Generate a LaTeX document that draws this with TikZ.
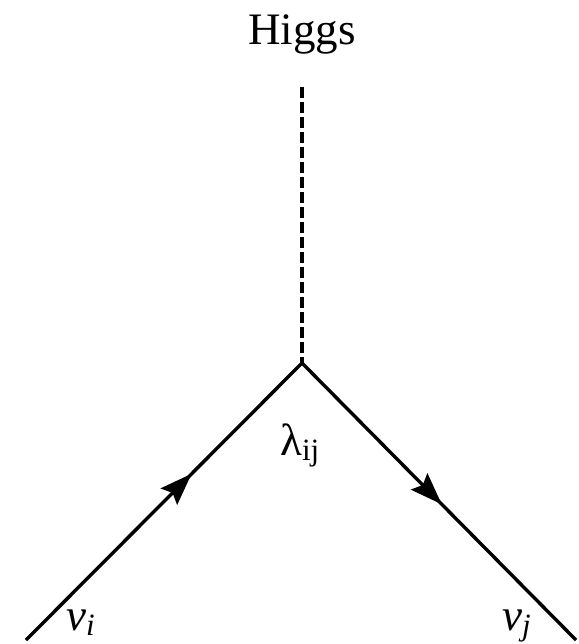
\documentclass[tikz,border=0pt]{standalone}
\usepackage{fontspec}
\setmainfont{Liberation Serif}
\usetikzlibrary{arrows.meta,decorations.markings}
\newcommand{\subtxt}[1]{\raisebox{-5pt}{\fontsize{31}{36}\selectfont #1}}
\tikzset{
  fermion/.style={line width=3.4pt},
  scalar/.style={line width=3.6pt, dash pattern=on 11pt off 4pt},
  arrowat/.style={postaction={decorate,decoration={markings,
     mark=at position #1 with {\arrow{Stealth[length=32pt,width=23pt,inset=5pt]}}}}},
  lbl/.style={anchor=base west, inner sep=0pt, font=\fontsize{45}{54}\selectfont}
}
\begin{document}
\begin{tikzpicture}[x=1pt,y=-1pt]
\useasboundingbox (0,0) rectangle (578,644);
\coordinate (v) at (302,363);
\coordinate (top) at (302,87);
\coordinate (a) at (26,640);
\coordinate (b) at (576,640);
\node[anchor=base, inner sep=0pt, font=\fontsize{45}{54}\selectfont] (higgs) at (302,45) {Higgs};
\draw[scalar] (top) -- (v);
\draw[fermion, arrowat=0.6] (a) -- (v);
\draw[fermion, arrowat=0.51] (v) -- (b);
\node[lbl] (lam) at (280,455) {λ\subtxt{ij}};
\node[lbl] (nui) at (66,630) {\itshape ν\subtxt{i}};
\node[lbl] (nuj) at (502,630) {\itshape ν\subtxt{j}};
\end{tikzpicture}
\end{document}
